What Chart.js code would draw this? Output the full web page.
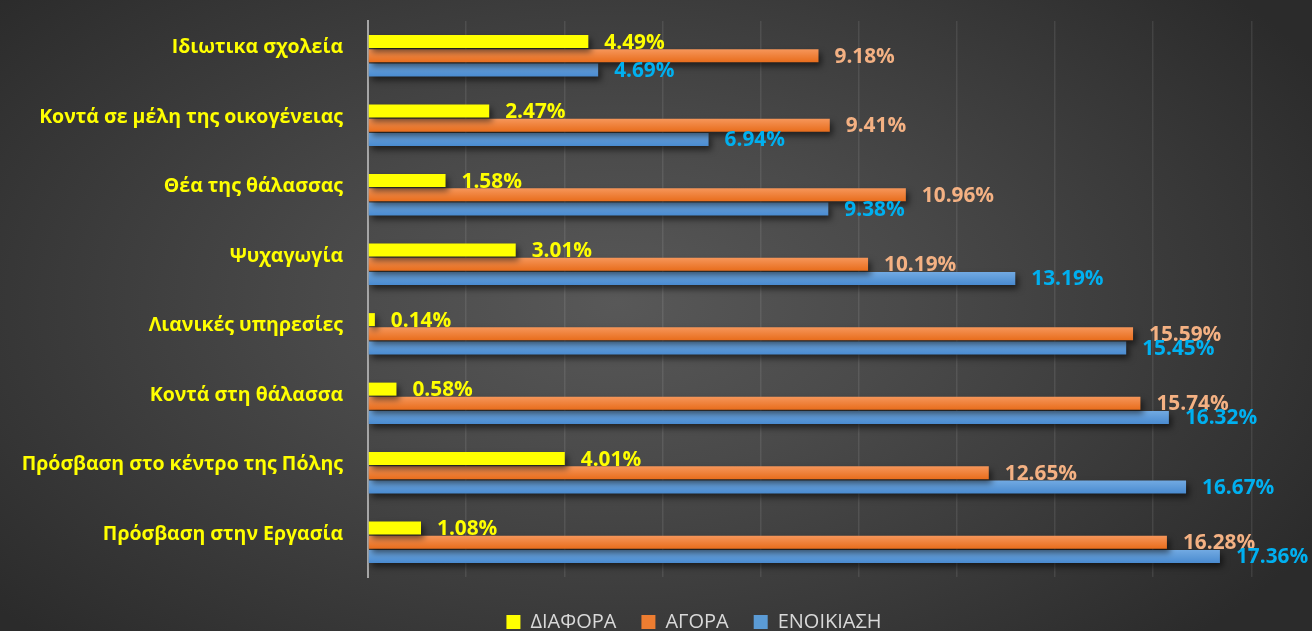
<!DOCTYPE html>
<html>
<head>
<meta charset="utf-8">
<script src="https://cdn.jsdelivr.net/npm/chart.js@4.4.1/dist/chart.umd.min.js"></script>
<style>
  html, body { margin: 0; padding: 0; width: 1312px; height: 631px; overflow: hidden; }
  body { background: radial-gradient(ellipse 62% 75% at 47% 48%, #585858 0%, #4a4a4a 35%, #2b2b2b 100%); }
  #wrap { position: absolute; left: 0; top: 0; width: 1388px; height: 642px; }
</style>
</head>
<body>
<div id="wrap"><canvas id="chart" width="1388" height="642"></canvas></div>
<script>
const categories = [
  'Ιδιωτικα σχολεία',
  'Κοντά σε μέλη της οικογένειας',
  'Θέα της θάλασσας',
  'Ψυχαγωγία',
  'Λιανικές υπηρεσίες',
  'Κοντά στη θάλασσα',
  'Πρόσβαση στο κέντρο της Πόλης',
  'Πρόσβαση στην Εργασία'
];
const seriesNames = ['ΔΙΑΦΟΡΑ', 'ΑΓΟΡΑ', 'ΕΝΟΙΚΙΑΣΗ'];
const diafora = [4.49, 2.47, 1.58, 3.01, 0.14, 0.58, 4.01, 1.08];
const agora = [9.18, 9.41, 10.96, 10.19, 15.59, 15.74, 12.65, 16.28];
const enoikiasi = [4.69, 6.94, 9.38, 13.19, 15.45, 16.32, 16.67, 17.36];

const catPct = 0.61;
const barPct = 0.92;
const fontFam = '"Open Sans", "Noto Sans", sans-serif';

const labelColors = ['#ffff00', '#f4b183', '#00b0f0'];
const gradStops = [
  ['#ffff00', '#ffff00'],
  ['#f6965a', '#e86d1c'],
  ['#72aae2', '#4a8bd0']
];

// vertical gradient per bar, worked out from the category scale
function barFill(ctx) {
  const chart = ctx.chart;
  const ds = ctx.datasetIndex;
  const y = chart.scales.y;
  if (!chart.chartArea || !y || ctx.dataIndex === undefined) return gradStops[ds][0];
  const band = (y.bottom - y.top) / categories.length;
  const slot = band * catPct / 3;
  const cy = y.getPixelForValue(ctx.dataIndex) + (ds - 1) * slot;
  const h = slot * barPct;
  const g = chart.ctx.createLinearGradient(0, cy - h / 2, 0, cy + h / 2);
  g.addColorStop(0, gradStops[ds][0]);
  g.addColorStop(1, gradStops[ds][1]);
  return g;
}

// soft drop shadow under bars
const shadowPlugin = {
  id: 'barShadow',
  beforeDatasetDraw(chart) {
    const c = chart.ctx;
    c.save();
    c.shadowColor = 'rgba(0,0,0,0.55)';
    c.shadowBlur = 6;
    c.shadowOffsetX = 3;
    c.shadowOffsetY = 4;
  },
  afterDatasetDraw(chart) {
    chart.ctx.restore();
  }
};

// value labels at the end of each bar
const valueLabels = {
  id: 'valueLabels',
  afterDatasetsDraw(chart) {
    const c = chart.ctx;
    c.save();
    c.font = 'bold 20.8px ' + fontFam;
    c.textAlign = 'left';
    c.textBaseline = 'middle';
    chart.data.datasets.forEach((d, i) => {
      const meta = chart.getDatasetMeta(i);
      c.fillStyle = labelColors[i];
      meta.data.forEach((bar, j) => {
        c.fillText(d.data[j].toFixed(2) + '%', bar.x + 16, bar.y + 1);
      });
    });
    c.restore();
  }
};

new Chart(document.getElementById('chart'), {
  type: 'bar',
  data: {
    labels: categories,
    datasets: [
      { label: seriesNames[0], data: diafora, backgroundColor: barFill, legendColor: '#ffff00' },
      { label: seriesNames[1], data: agora, backgroundColor: barFill, legendColor: '#ed7d31' },
      { label: seriesNames[2], data: enoikiasi, backgroundColor: barFill, legendColor: '#5b9bd5' }
    ]
  },
  options: {
    indexAxis: 'y',
    responsive: false,
    animation: false,
    layout: { padding: { top: 21, left: 0, right: 0, bottom: 0 } },
    datasets: { bar: { categoryPercentage: catPct, barPercentage: barPct } },
    plugins: {
      tooltip: { enabled: false },
      legend: {
        position: 'bottom',
        labels: {
          color: '#d9d9d9',
          font: { family: fontFam, size: 20 },
          boxWidth: 14,
          boxHeight: 14,
          padding: 25,
          generateLabels(chart) {
            return chart.data.datasets.map((d, i) => ({
              text: d.label,
              fillStyle: d.legendColor,
              strokeStyle: d.legendColor,
              lineWidth: 0,
              fontColor: '#d9d9d9',
              datasetIndex: i
            }));
          }
        }
      }
    },
    scales: {
      x: {
        min: 0,
        max: 20.785,
        ticks: { display: false, stepSize: 2 },
        grid: { color: 'rgba(255,255,255,0.09)', lineWidth: 1.5, drawTicks: false },
        border: { display: false },
        afterFit(scale) { scale.height = 10; }
      },
      y: {
        ticks: {
          color: '#ffff00',
          font: { family: fontFam, size: 19.5, weight: 'bold' },
          padding: 25,
          labelOffset: -8
        },
        grid: { display: false, drawTicks: false },
        border: { display: true, color: '#a6a6a6', width: 2 },
        afterFit(scale) {
          scale.width = 368;
          scale.paddingTop = 0;
          scale.paddingBottom = 0;
        }
      }
    }
  },
  plugins: [shadowPlugin, valueLabels]
});
</script>
</body>
</html>
